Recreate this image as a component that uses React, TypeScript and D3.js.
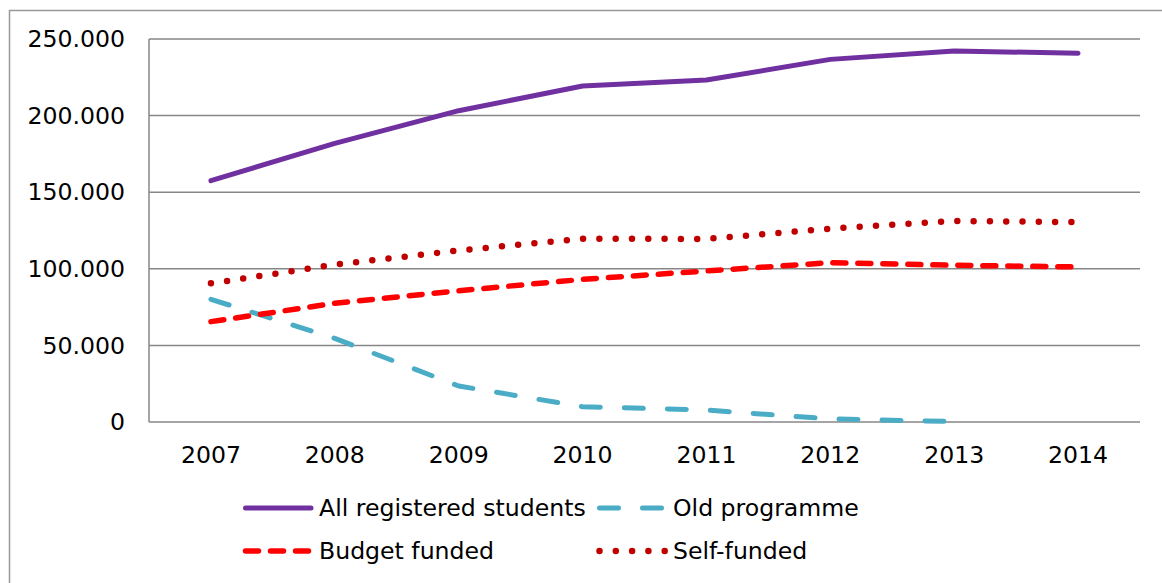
import React from "react";
import * as d3 from "d3";

const years = ["2007", "2008", "2009", "2010", "2011", "2012", "2013", "2014"];
const allRegistered = [157500, 181900, 203200, 219300, 223200, 236700, 242200, 240700];
const oldProgramme: (number | null)[] = [80100, 54600, 23500, 10000, 7800, 2000, 300, null];
const budgetFunded = [65500, 77500, 85700, 93100, 98600, 104000, 102300, 101200];
const selfFunded = [90500, 102700, 112000, 119600, 119500, 126200, 131200, 130500];
const yTicks = [0, 50000, 100000, 150000, 200000, 250000];

const seriesNames = ["All registered students", "Old programme", "Budget funded", "Self-funded"];

const W = 1162;
const H = 583;
const FONT = "'DejaVu Sans', Verdana, sans-serif";
const FS = 23.6;

export default function App() {
  const plot = { left: 149, right: 1140, top: 39, bottom: 422 };
  const x = d3.scaleBand<string>().domain(years).range([plot.left, plot.right]);
  const y = d3.scaleLinear().domain([0, 250000]).range([plot.bottom, plot.top]);
  const fmt = d3.formatLocale({ decimal: ",", thousands: ".", grouping: [3], currency: ["", ""] }).format(",");
  const cx = (yr: string) => (x(yr) as number) + x.bandwidth() / 2;

  const line = d3
    .line<number | null>()
    .defined((d) => d !== null)
    .x((_, i) => cx(years[i]))
    .y((d) => y(d as number));

  const styles = [
    { data: allRegistered, color: "#7030A0", width: 5, dash: undefined as string | undefined, cap: "round" },
    { data: oldProgramme, color: "#4BACC6", width: 5, dash: "19 24", cap: "round" },
    { data: budgetFunded, color: "#FF0000", width: 5.5, dash: "13 12", cap: "round" },
    { data: selfFunded, color: "#C00000", width: 6.5, dash: "0 16.3", cap: "round" },
  ];

  const legendPos = [
    { x: 243, y: 508 },
    { x: 597, y: 508 },
    { x: 243, y: 551 },
    { x: 597, y: 551 },
  ];

  return (
    <svg
      width={W}
      height={H}
      style={{ position: "absolute", left: 0, top: 0, display: "block", background: "#fff" }}
      fontFamily={FONT}
    >
      <rect x={9.5} y={10.5} width={W + 20} height={H + 20} fill="#fff" stroke="#999" strokeWidth={1.5} />
      {yTicks.map((t) => (
        <g key={t}>
          <line x1={plot.left} x2={plot.right} y1={y(t)} y2={y(t)} stroke="#878787" strokeWidth={1.5} />
          <text x={125} y={y(t)} dy="0.35em" textAnchor="end" fontSize={FS} fill="#000">
            {fmt(t)}
          </text>
        </g>
      ))}
      <line x1={plot.left} x2={plot.left} y1={plot.top} y2={plot.bottom} stroke="#878787" strokeWidth={1.5} />
      {years.map((yr) => (
        <text key={yr} x={cx(yr)} y={455} dy="0.35em" textAnchor="middle" fontSize={FS} fill="#000">
          {yr}
        </text>
      ))}
      {styles.map((s, i) => (
        <path
          key={i}
          d={line(s.data as (number | null)[]) || ""}
          fill="none"
          stroke={s.color}
          strokeWidth={s.width}
          strokeDasharray={s.dash}
          strokeLinecap={s.cap as any}
          strokeLinejoin="round"
        />
      ))}
      {styles.map((s, i) => (
        <g key={"lg" + i}>
          <line
            x1={legendPos[i].x + 2.5}
            x2={legendPos[i].x + 68}
            y1={legendPos[i].y}
            y2={legendPos[i].y}
            stroke={s.color}
            strokeWidth={s.width}
            strokeDasharray={s.dash}
            strokeLinecap={s.cap as any}
          />
          <text x={legendPos[i].x + 76} y={legendPos[i].y} dy="0.35em" fontSize={FS} fill="#000">
            {seriesNames[i]}
          </text>
        </g>
      ))}
    </svg>
  );
}
